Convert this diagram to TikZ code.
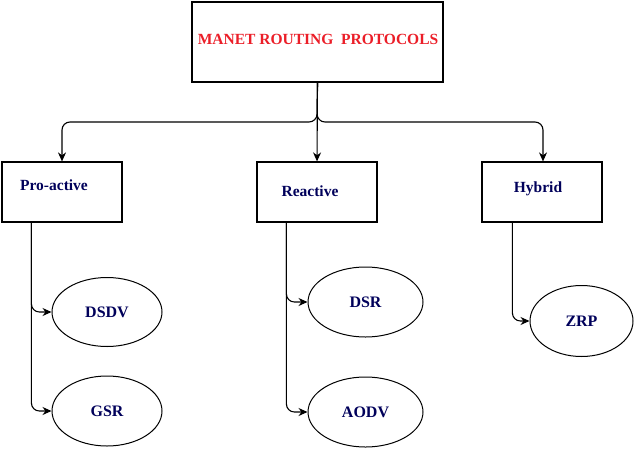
\documentclass[tikz,border=0pt]{standalone}
\usepackage{fontspec}
\setmainfont{Liberation Serif}[BoldFont={Liberation Serif Bold}]
\usetikzlibrary{shapes.geometric,arrows.meta}
\definecolor{titlered}{RGB}{235,30,40}
\definecolor{navytext}{RGB}{0,0,90}
\tikzset{
  box/.style={draw, line width=1.2pt, minimum width=120pt, minimum height=60pt, inner sep=0pt},
  oval/.style={draw, ellipse, line width=1pt, inner sep=0pt, font=\bfseries\fontsize{16}{18}\selectfont, text=navytext},
  lbl/.style={font=\bfseries\fontsize{15.5}{18}\selectfont, text=navytext, inner sep=0pt},
  conn/.style={line width=1.1pt, rounded corners=8pt, -{Stealth[length=9pt,width=8pt]}},
}
\begin{document}
\begin{tikzpicture}[x=1pt,y=-1pt]
\useasboundingbox (0,0) rectangle (636,450);
\node[box, minimum width=251pt, minimum height=80pt] (top) at (317.5,42) {};
\node[font=\bfseries\fontsize{15.5}{18}\selectfont, text=titlered, inner sep=0pt] (topT) at (318,39) {MANET ROUTING\ \ PROTOCOLS};
\node[box] (pro) at (62,192) {};
\node[lbl] (proT) at (54,185) {Pro-active};
\node[box] (rea) at (317,192) {};
\node[lbl] (reaT) at (310,191) {Reactive};
\node[box] (hyb) at (542,192) {};
\node[lbl] (hybT) at (538,189) {Hybrid};
\node[oval, minimum width=110pt, minimum height=69pt] (dsdv) at (107,312) {DSDV};
\node[oval, minimum width=110pt, minimum height=70pt] (gsr) at (107,411) {GSR};
\node[oval, minimum width=115pt, minimum height=70pt] (dsr) at (365.5,302) {DSR};
\node[oval, minimum width=115pt, minimum height=70pt] (aodv) at (365.5,412) {AODV};
\node[oval, minimum width=103pt, minimum height=71pt] (zrp) at (581.5,321) {ZRP};
\coordinate (bus) at (317,122);
\draw[conn] (top.south) -- (bus) -| (pro.north);
\draw[conn] (top.south) -- (rea.north);
\draw[conn] (top.south) -- (bus) -| ([xshift=1pt]hyb.north);
\draw[conn] ([xshift=30pt]pro.south west) |- (dsdv.west);
\draw[conn] ([xshift=30pt]pro.south west) |- (gsr.west);
\draw[conn] ([xshift=30pt]rea.south west) |- (dsr.west);
\draw[conn] ([xshift=30pt]rea.south west) |- (aodv.west);
\draw[conn] ([xshift=31pt]hyb.south west) |- (zrp.west);
\end{tikzpicture}
\end{document}
